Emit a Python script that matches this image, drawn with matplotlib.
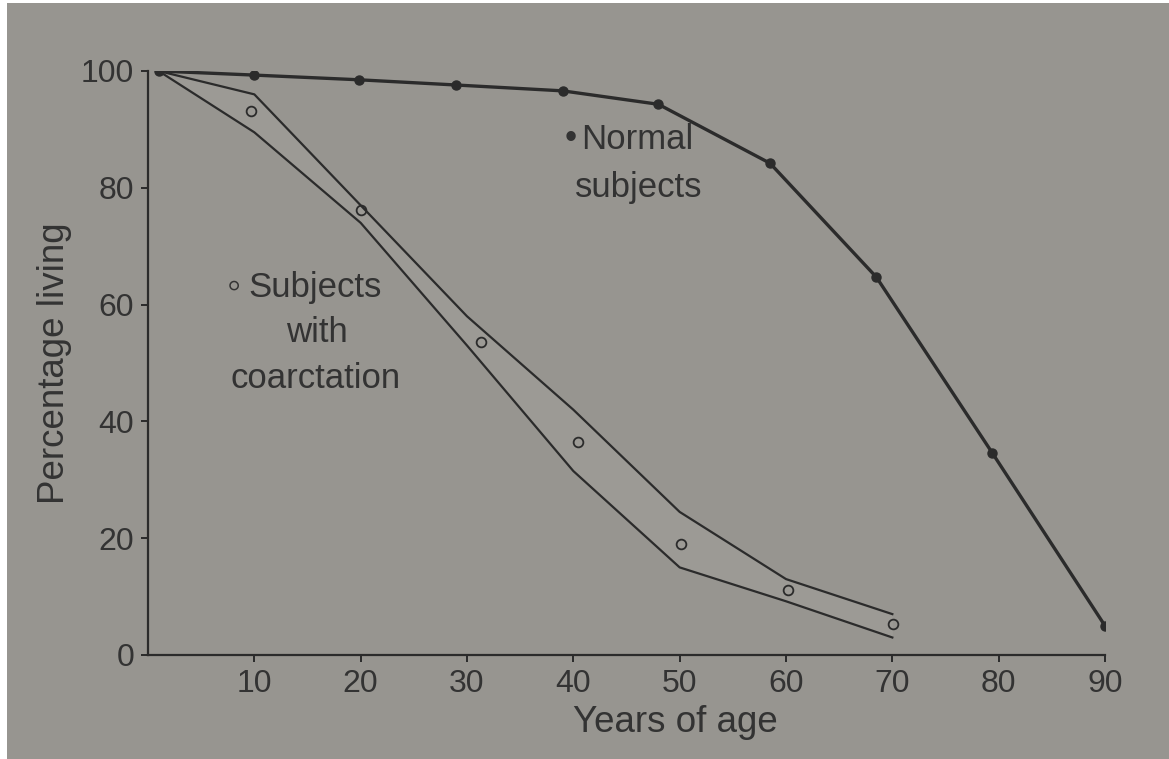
import matplotlib
matplotlib.use("Agg")
import matplotlib.pyplot as plt
from matplotlib.patches import Rectangle

# ======= DATA ==========
# Normal subjects (filled dots)
edad_normal = [1, 10, 19.8, 29, 39, 48, 58.5, 68.5, 79.4, 90]
vivos_normal = [100, 99.3, 98.5, 97.6, 96.6, 94.3, 84.2, 64.7, 34.6, 5]

# Subjects with coarctation (open circles)
edad_coarct = [9.7, 20, 31.3, 40.4, 50.1, 60.2, 70.1]
vivos_coarct = [93.2, 76.2, 53.6, 36.5, 19.0, 11.1, 5.3]

# Band around coarctation data
edad_banda = [1, 10, 20, 30, 40, 50, 60, 70]
banda_sup = [100, 96, 77, 58, 42, 24.5, 13, 7]
banda_inf = [100, 89.5, 74, 53, 31.5, 15, 9.2, 3]

xticks = [10, 20, 30, 40, 50, 60, 70, 80, 90]
yticks = [0, 20, 40, 60, 80, 100]
# =======================

fondo = "#979590"
tinta = "#2b2b2b"
texto = "#333333"
plt.rcParams["font.family"] = ["Liberation Sans", "DejaVu Sans"]

fig = plt.figure(figsize=(11.69, 7.59), dpi=100, facecolor="white")
fig.patches.append(Rectangle((7 / 1169, 0), 1, 1 - 3 / 759, transform=fig.transFigure,
                             facecolor=fondo, edgecolor="none", zorder=-10))
ax = fig.add_axes([148 / 1169, 1 - 655 / 759, (1105 - 148) / 1169, (655 - 71) / 759])
ax.set_facecolor("none")

# banda sombreada y sus bordes
ax.fill_between(edad_banda, banda_inf, banda_sup, color="#9c9a95", lw=0, zorder=1)
ax.plot(edad_banda, banda_sup, color=tinta, lw=1.6, zorder=2)
ax.plot(edad_banda, banda_inf, color=tinta, lw=1.6, zorder=2)
ax.plot(edad_coarct, vivos_coarct, linestyle="none", marker="o", markersize=7,
        markerfacecolor="none", markeredgecolor=tinta, markeredgewidth=1.3, zorder=3)

# normales
ax.plot(edad_normal, vivos_normal, color=tinta, lw=2.4, marker="o", markersize=6.5,
        markerfacecolor=tinta, markeredgecolor=tinta, zorder=3)

ax.set_xlim(0, 90)
ax.set_ylim(0, 100)
ax.set_xticks(xticks)
ax.set_yticks(yticks)
ax.spines["top"].set_visible(False)
ax.spines["right"].set_visible(False)
for s in ["left", "bottom"]:
    ax.spines[s].set_color(tinta)
    ax.spines[s].set_linewidth(1.6)
ax.tick_params(axis="both", direction="out", length=5, width=1.4, color=tinta,
               labelsize=23, labelcolor=texto, pad=5)
ax.set_xlabel("Years of age", fontsize=26.5, color=texto)
ax.xaxis.set_label_coords(0.551, -0.086)
ax.set_ylabel("Percentage living", fontsize=26.5, color=texto)
ax.yaxis.set_label_coords(-0.079, 0.5)

# anotaciones
ax.text(39.2, 88.5, "•", fontsize=25, color=texto, ha="left", va="center")
ax.text(40.7, 88.2, "Normal", fontsize=25, color=texto, ha="left", va="center")
ax.text(40.2, 80.0, "subjects", fontsize=25, color=texto, ha="left", va="center")
ax.text(7.4, 63.0, "◦", fontsize=29, color=texto, ha="left", va="center")
ax.text(9.4, 63.0, "Subjects", fontsize=25, color=texto, ha="left", va="center")
ax.text(15.9, 55.2, "with", fontsize=25, color=texto, ha="center", va="center")
ax.text(15.8, 47.3, "coarctation", fontsize=25, color=texto, ha="center", va="center")

fig.savefig("out.png", dpi=100, facecolor=fig.get_facecolor())
plt.close(fig)
print("out.png is saved")
